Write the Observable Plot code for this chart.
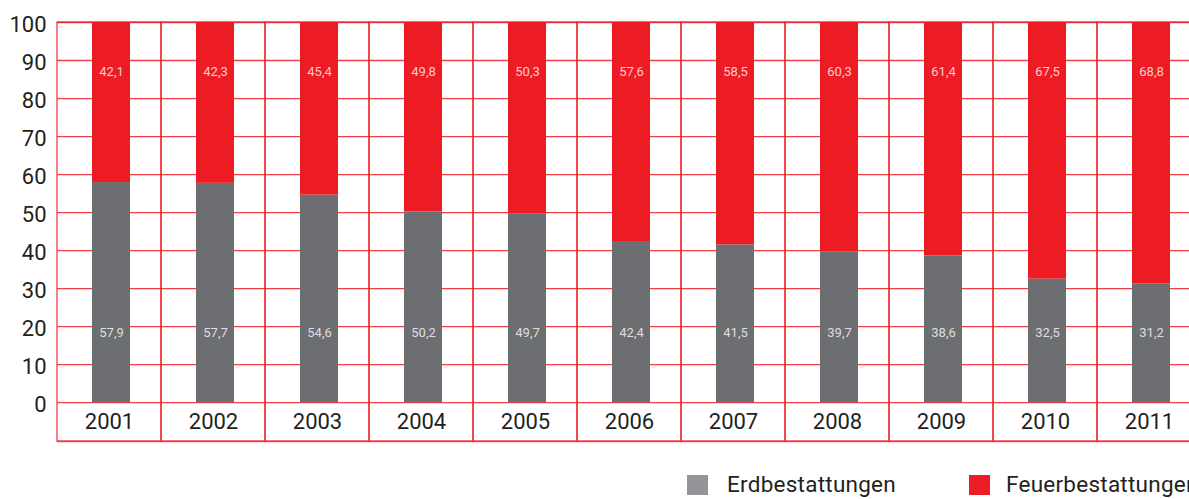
<!DOCTYPE html>
<html>
<head>
<meta charset="utf-8">
<script src="https://cdn.jsdelivr.net/npm/d3@7"></script>
<script src="https://cdn.jsdelivr.net/npm/@observablehq/plot@0.6"></script>
<style>
  html, body { margin: 0; padding: 0; background: #fff; overflow: hidden; }
  #wrap { width: 1189px; height: 499px; overflow: hidden; position: relative; font-family: Roboto, "Liberation Sans", sans-serif; }
  #chart svg { max-width: none !important; display: block; }
  #legend { position: absolute; top: 475px; left: 0; width: 1300px; height: 24px; color: #231f20; font-size: 22.5px; }
  .sw { position: absolute; top: 0; width: 21px; height: 20px; }
  .lt { position: absolute; top: -4px; white-space: nowrap; line-height: 26px; letter-spacing: 0.25px; }
</style>
</head>
<body>
<div id="wrap">
  <div id="chart"></div>
  <div id="legend"></div>
</div>
<script>
const years = ["2001","2002","2003","2004","2005","2006","2007","2008","2009","2010","2011"];
const erdbestattungen = [57.9,57.7,54.6,50.2,49.7,42.4,41.5,39.7,38.6,32.5,31.2];
const feuerbestattungen = [42.1,42.3,45.4,49.8,50.3,57.6,58.5,60.3,61.4,67.5,68.8];
const yTicks = [0,10,20,30,40,50,60,70,80,90,100];
const seriesNames = ["Erdbestattungen","Feuerbestattungen"];
const seriesColors = ["#6d6e71","#ed1c24"];
const legendColors = ["#939598","#ed1c24"];

const RED = "#ed1c24";
const fmt = d3.formatLocale({decimal: ",", thousands: ".", grouping: [3], currency: ["", "€"]}).format(".1f");

const rows = [];
years.forEach((y, i) => {
  rows.push({year: y, type: seriesNames[0], value: erdbestattungen[i]});
  rows.push({year: y, type: seriesNames[1], value: feuerbestattungen[i]});
});

const chart = Plot.plot({
  width: 1205,
  height: 450,
  marginLeft: 57,
  marginRight: 4,
  marginTop: 22,
  marginBottom: 9,
  style: {fontFamily: "Roboto, 'Liberation Sans', sans-serif", color: "#231f20", background: "#fff", maxWidth: "none"},
  x: {type: "band", domain: years, range: [57, 1201], padding: 0, axis: null},
  y: {domain: [-10.2, 100], range: [441, 22], axis: null},
  color: {domain: seriesNames, range: seriesColors},
  marks: [
    Plot.ruleY(yTicks, {stroke: RED, strokeOpacity: 0.85, strokeWidth: 1.3}),
    Plot.ruleY([-10.2], {stroke: RED, strokeOpacity: 0.7, strokeWidth: 1.6}),
    Plot.barY(years, {x: d => d, y1: -10.2, y2: 100, fill: "none", stroke: RED, strokeOpacity: 0.85, strokeWidth: 1.3}),
    Plot.barY(rows, {x: "year", y: "value", fill: "type", order: seriesNames, insetLeft: 35, insetRight: 31}),
    Plot.text(rows, {
      x: "year",
      y: d => d.type === seriesNames[0] ? 18.4 : 87.1,
      text: d => fmt(d.value),
      fill: "white", fillOpacity: 0.78, fontSize: 13, dx: 2
    }),
    Plot.text(years, {x: d => d, y: -5.1, text: d => d, fontSize: 22, fill: "#231f20"}),
    Plot.axisY({ticks: yTicks, label: null, tickSize: 0, tickPadding: 11, fontSize: 22, dy: 2, tickFormat: d => String(d), color: "#231f20"})
  ]
});
document.getElementById("chart").appendChild(chart);

const legend = document.getElementById("legend");
const swX = [687, 969];
const txX = [727, 1006];
seriesNames.forEach((n, i) => {
  const s = document.createElement("span");
  s.className = "sw"; s.style.left = swX[i] + "px"; s.style.background = legendColors[i];
  legend.appendChild(s);
  const t = document.createElement("span");
  t.className = "lt"; t.style.left = txX[i] + "px"; t.textContent = n;
  legend.appendChild(t);
});
</script>
</body>
</html>
